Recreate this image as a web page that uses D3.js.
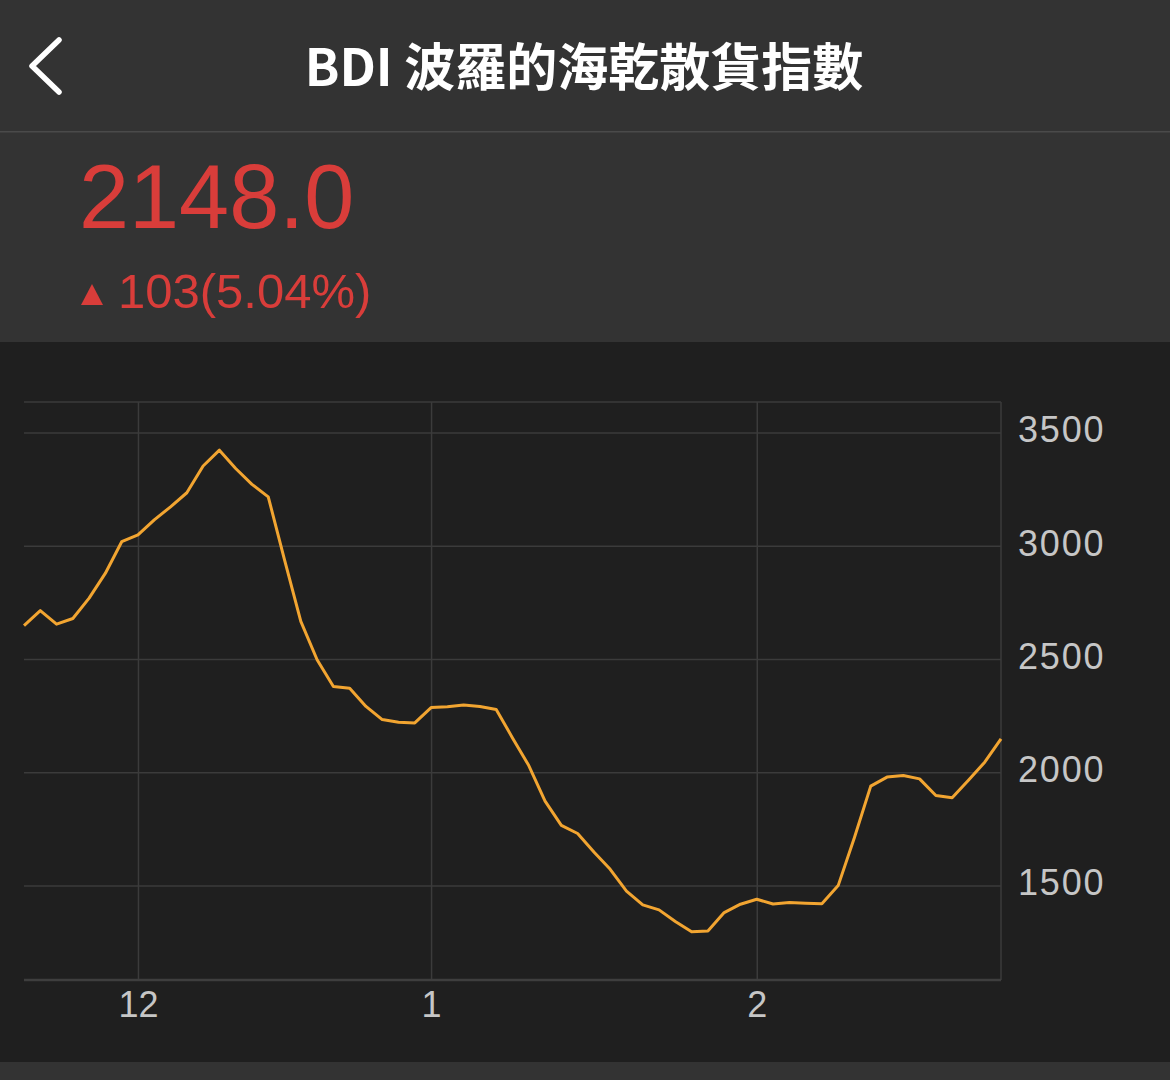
<!DOCTYPE html>
<html>
<head>
<meta charset="utf-8">
<script src="https://cdn.jsdelivr.net/npm/d3@7"></script>
<style>
  html, body { margin: 0; padding: 0; background: #1f1f1f; }
  svg { display: block; }
</style>
</head>
<body>
<svg id="chart" width="1170" height="1080"></svg>
<script>
// ---- data ----
const title = "BDI 波羅的海乾散貨指數";
const lastPrice = "2148.0";
const changeText = "103(5.04%)";
const values = [2648,2714,2654,2679,2769,2879,3018,3048,3114,3172,
                3234,3352,3422,3341,3271,3216,2938,2666,2497,2379,
                2371,2291,2233,2221,2218,2286,2289,2297,2291,2277,
                2152,2030,1873,1766,1730,1648,1572,1476,1415,1393,
                1342,1296,1300,1381,1418,1440,1419,1425,1422,1420,
                1500,1712,1939,1979,1986,1971,1898,1888,1965,2045,2148];
const xTickIndex = [7, 25, 45];
const xTickLabels = ["12", "1", "2"];
const yTicks = [1500, 2000, 2500, 3000, 3500];

// ---- layout ----
const svg = d3.select("#chart");
const W = 1170, H = 1080;
const plot = { left: 24, right: 1001, top: 402, bottom: 980 };

// backgrounds
svg.append("rect").attr("x",0).attr("y",0).attr("width",W).attr("height",H).attr("fill","#1f1f1f");
svg.append("rect").attr("x",0).attr("y",0).attr("width",W).attr("height",342).attr("fill","#333333");
svg.append("rect").attr("x",0).attr("y",131).attr("width",W).attr("height",1.5).attr("fill","#4a4a4a");
svg.append("rect").attr("x",0).attr("y",1062).attr("width",W).attr("height",18).attr("fill","#333333");

// header: back chevron + title
svg.append("path")
  .attr("d","M59,40 L32,66 L59,92")
  .attr("fill","none").attr("stroke","#ffffff").attr("stroke-width",5.5)
  .attr("stroke-linecap","round").attr("stroke-linejoin","round");
svg.append("text")
  .attr("x",584).attr("y",86).attr("text-anchor","middle")
  .attr("fill","#ffffff")
  .attr("font-family","'Noto Sans CJK TC','Noto Sans',sans-serif")
  .attr("font-weight","bold").attr("font-size",51)
  .text(title);

// price block
const red = "#d93d3a";
svg.append("text")
  .attr("x",79).attr("y",228)
  .attr("fill",red)
  .attr("font-family","'Liberation Sans',Arial,sans-serif")
  .attr("font-size",90)
  .text(lastPrice);
svg.append("path")
  .attr("d","M81,305 L92,284 L103,305 Z")
  .attr("fill",red);
svg.append("text")
  .attr("x",118).attr("y",308)
  .attr("fill",red)
  .attr("font-family","'Liberation Sans',Arial,sans-serif")
  .attr("font-size",49)
  .text(changeText);

// ---- scales ----
const x = d3.scaleLinear().domain([0, values.length - 1]).range([plot.left, plot.right]);
const vmin = d3.min(values), vmax = d3.max(values), pad = (vmax - vmin) * 0.1;
const y = d3.scaleLinear().domain([vmin - pad, vmax + pad]).range([plot.bottom, plot.top]);

const gridColor = "#3b3b3b";
const g = svg.append("g");

// horizontal grid + right y labels
const yAxis = d3.axisRight(y).tickValues(yTicks)
  .tickSize(-(plot.right - plot.left)).tickPadding(17).tickFormat(d3.format("d"));
const gy = g.append("g").attr("transform",`translate(${plot.right},0)`).call(yAxis);
gy.select(".domain").remove();
gy.selectAll(".tick line").attr("stroke",gridColor).attr("stroke-width",1.5);
gy.selectAll(".tick text")
  .attr("fill","#c6c6c6")
  .attr("dy","0.26em")
  .attr("font-family","'Liberation Sans',Arial,sans-serif")
  .attr("font-size",36).attr("letter-spacing",1.8);

// vertical grid + bottom x labels
const xAxis = d3.axisBottom(x).tickValues(xTickIndex)
  .tickSize(-(plot.bottom - plot.top)).tickPadding(11)
  .tickFormat((d,i) => xTickLabels[i]);
const gx = g.append("g").attr("transform",`translate(0,${plot.bottom})`).call(xAxis);
gx.select(".domain").remove();
gx.selectAll(".tick line").attr("stroke",gridColor).attr("stroke-width",1.5);
gx.selectAll(".tick text")
  .attr("fill","#c6c6c6")
  .attr("font-family","'Liberation Sans',Arial,sans-serif")
  .attr("font-size",36);

// plot frame: top, right, bottom
g.append("line").attr("x1",plot.left).attr("x2",plot.right).attr("y1",plot.top).attr("y2",plot.top)
  .attr("stroke",gridColor).attr("stroke-width",1.5);
g.append("line").attr("x1",plot.right).attr("x2",plot.right).attr("y1",plot.top).attr("y2",plot.bottom)
  .attr("stroke",gridColor).attr("stroke-width",1.5);
g.append("line").attr("x1",plot.left).attr("x2",plot.right).attr("y1",plot.bottom).attr("y2",plot.bottom)
  .attr("stroke","#3e3e3e").attr("stroke-width",2.5);

// line
const line = d3.line().x((d,i) => x(i)).y(d => y(d));
g.append("path")
  .datum(values)
  .attr("d",line)
  .attr("fill","none")
  .attr("stroke","#f2a531")
  .attr("stroke-width",3)
  .attr("stroke-linejoin","round");
</script>
</body>
</html>
